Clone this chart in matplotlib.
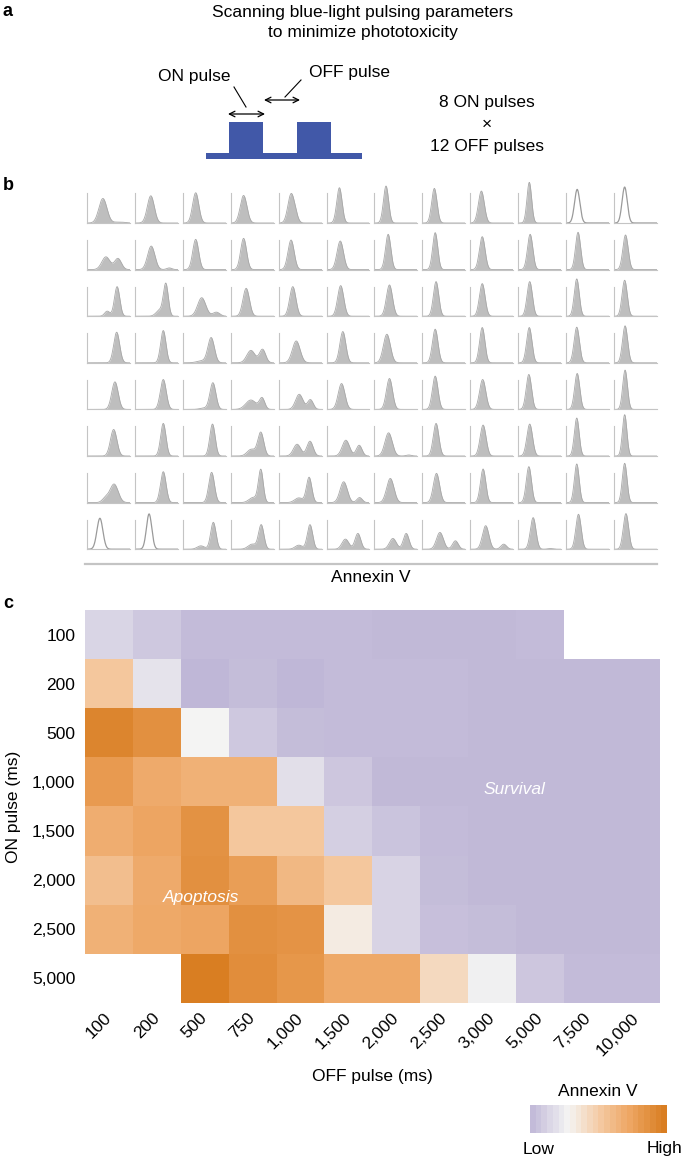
import numpy as np
import matplotlib.pyplot as plt
from matplotlib.colors import LinearSegmentedColormap
from matplotlib.patches import Rectangle

plt.rcParams['font.family'] = ['Liberation Sans', 'DejaVu Sans']

W, H = 685, 1158

# ---- panel c data ----
on_pulse = ['100', '200', '500', '1,000', '1,500', '2,000', '2,500', '5,000']
off_pulse = ['100', '200', '500', '750', '1,000', '1,500', '2,000', '2,500',
             '3,000', '5,000', '7,500', '10,000']
nan = np.nan
annexin = np.array([
    [0.16, 0.10, 0.04, 0.04, 0.04, 0.04, 0.03, 0.03, 0.03, 0.04, nan, nan],
    [0.55, 0.22, 0.02, 0.05, 0.02, 0.04, 0.04, 0.04, 0.03, 0.03, 0.03, 0.03],
    [0.95, 0.88, 0.30, 0.10, 0.05, 0.04, 0.04, 0.04, 0.03, 0.03, 0.03, 0.03],
    [0.82, 0.72, 0.68, 0.68, 0.20, 0.09, 0.03, 0.03, 0.03, 0.03, 0.03, 0.03],
    [0.70, 0.75, 0.87, 0.55, 0.55, 0.13, 0.08, 0.04, 0.03, 0.03, 0.03, 0.03],
    [0.60, 0.72, 0.88, 0.80, 0.64, 0.55, 0.15, 0.05, 0.03, 0.03, 0.03, 0.03],
    [0.68, 0.73, 0.75, 0.88, 0.86, 0.35, 0.15, 0.06, 0.05, 0.03, 0.03, 0.03],
    [nan, nan, 1.00, 0.90, 0.84, 0.73, 0.73, 0.45, 0.28, 0.09, 0.04, 0.04],
])

# ---- panel b data: peaks (position, height, width) per cell ----
peaks = [
    [[(0.37, 73, 0.094), (0.75, 3, 0.12)], [(0.37, 81, 0.081)], [(0.30, 90, 0.072)],
     [(0.30, 82, 0.078)], [(0.29, 85, 0.075), (0.40, 15, 0.06)], [(0.30, 105, 0.062)],
     [(0.27, 110, 0.06)], [(0.28, 103, 0.062)], [(0.26, 95, 0.069)],
     [(0.26, 121, 0.054)], [(0.26, 100, 0.062)], [(0.25, 107, 0.06)]],
    [[(0.44, 38, 0.095), (0.72, 33, 0.08)], [(0.38, 70, 0.085), (0.80, 5, 0.06)],
     [(0.30, 90, 0.069)], [(0.30, 93, 0.069)], [(0.29, 88, 0.072)], [(0.32, 85, 0.075)],
     [(0.32, 105, 0.062)], [(0.30, 110, 0.059)], [(0.28, 98, 0.066)],
     [(0.28, 105, 0.062)], [(0.28, 111, 0.059)], [(0.27, 103, 0.062)]],
    [[(0.70, 88, 0.062), (0.47, 15, 0.06)], [(0.72, 94, 0.056), (0.58, 18, 0.085)],
     [(0.44, 55, 0.095), (0.78, 12, 0.08)], [(0.36, 83, 0.075)], [(0.33, 88, 0.072)],
     [(0.33, 91, 0.071)], [(0.35, 93, 0.071)], [(0.32, 103, 0.062)],
     [(0.28, 97, 0.066)], [(0.27, 103, 0.062)], [(0.25, 111, 0.058)], [(0.25, 107, 0.06)]],
    [[(0.69, 91, 0.069)], [(0.66, 96, 0.062)], [(0.66, 74, 0.075), (0.45, 6, 0.12)],
     [(0.47, 37, 0.095), (0.74, 40, 0.072)], [(0.41, 65, 0.09)], [(0.38, 93, 0.069)],
     [(0.29, 85, 0.081)], [(0.30, 100, 0.065)], [(0.28, 105, 0.062)],
     [(0.26, 105, 0.062)], [(0.25, 106, 0.062)], [(0.26, 110, 0.06)]],
    [[(0.65, 82, 0.075)], [(0.66, 89, 0.069)], [(0.70, 79, 0.069), (0.5, 4, 0.1)],
     [(0.47, 28, 0.12), (0.73, 33, 0.062)], [(0.48, 45, 0.085), (0.74, 29, 0.066)],
     [(0.35, 77, 0.078)], [(0.35, 92, 0.071)], [(0.30, 99, 0.065)],
     [(0.29, 89, 0.072)], [(0.25, 104, 0.062)], [(0.26, 107, 0.06)], [(0.26, 117, 0.055)]],
    [[(0.62, 79, 0.075)], [(0.66, 97, 0.062)], [(0.69, 95, 0.062)],
     [(0.70, 70, 0.069), (0.48, 20, 0.095)], [(0.43, 35, 0.085), (0.73, 44, 0.072)],
     [(0.45, 47, 0.085), (0.76, 32, 0.066)], [(0.33, 69, 0.085), (0.80, 3, 0.06)],
     [(0.32, 97, 0.065)], [(0.30, 92, 0.069)], [(0.27, 95, 0.066)],
     [(0.25, 113, 0.056)], [(0.25, 123, 0.052)]],
    [[(0.63, 55, 0.095), (0.43, 13, 0.075)], [(0.66, 92, 0.065)], [(0.67, 90, 0.066)],
     [(0.70, 97, 0.056), (0.52, 15, 0.095)], [(0.71, 75, 0.062), (0.47, 14, 0.095)],
     [(0.40, 62, 0.085), (0.77, 15, 0.062)], [(0.37, 72, 0.085)], [(0.33, 87, 0.072)],
     [(0.30, 100, 0.062)], [(0.25, 107, 0.06)], [(0.25, 115, 0.056)], [(0.25, 117, 0.055)]],
    [[(0.30, 92, 0.069)], [(0.33, 105, 0.062)], [(0.71, 80, 0.062), (0.42, 10, 0.085)],
     [(0.71, 72, 0.062), (0.50, 15, 0.095)], [(0.73, 73, 0.062), (0.47, 12, 0.085)],
     [(0.44, 30, 0.08), (0.73, 47, 0.066)], [(0.43, 32, 0.08), (0.74, 47, 0.066)],
     [(0.41, 50, 0.08), (0.77, 25, 0.066)], [(0.36, 70, 0.075), (0.78, 15, 0.066)],
     [(0.35, 94, 0.065), (0.75, 2, 0.06)], [(0.29, 104, 0.062)], [(0.28, 106, 0.062)]],
]
open_cells = [(0, 10), (0, 11), (7, 0), (7, 1)]  # unstained controls


def px_axes(x0, y0, x1, y1):
    return fig.add_axes([x0 / W, 1 - y1 / H, (x1 - x0) / W, (y1 - y0) / H])


fig = plt.figure(figsize=(W / 100, H / 100), dpi=100)

# overlay axes in pixel coordinates for panel a and free text
ov = fig.add_axes([0, 0, 1, 1])
ov.set_xlim(0, W)
ov.set_ylim(H, 0)
ov.axis('off')

fs = 12.5
ov.text(3, 11, 'a', fontsize=13, fontweight='bold', va='center')
ov.text(3, 185, 'b', fontsize=13, fontweight='bold', va='center')
ov.text(3, 604, 'c', fontsize=13, fontweight='bold', va='center')

ov.text(363, 13, 'Scanning blue-light pulsing parameters', fontsize=fs, ha='center', va='center')
ov.text(363, 33, 'to minimize phototoxicity', fontsize=fs, ha='center', va='center')

blue = '#4158a8'
ov.add_patch(Rectangle((206, 153), 156, 6, color=blue, lw=0))
ov.add_patch(Rectangle((229, 122), 34, 33, color=blue, lw=0))
ov.add_patch(Rectangle((297, 122), 34, 33, color=blue, lw=0))
ov.annotate('', xy=(228, 114), xytext=(265, 114),
            arrowprops=dict(arrowstyle='<->', lw=0.9, color='black', shrinkA=0, shrinkB=0))
ov.annotate('', xy=(264, 100), xytext=(300, 100),
            arrowprops=dict(arrowstyle='<->', lw=0.9, color='black', shrinkA=0, shrinkB=0))
ov.plot([234, 246], [87, 107], color='black', lw=0.8)
ov.plot([301, 285], [80, 97], color='black', lw=0.8)
ov.text(194, 76, 'ON pulse', fontsize=fs, ha='center', va='center')
ov.text(350, 73, 'OFF pulse', fontsize=fs, ha='center', va='center')
ov.text(487, 103, '8 ON pulses', fontsize=fs, ha='center', va='center')
ov.text(487, 124, '×', fontsize=fs, ha='center', va='center')
ov.text(487, 146, '12 OFF pulses', fontsize=fs, ha='center', va='center')

# ---- panel b ----
xs = np.linspace(0, 1, 200)
for r in range(8):
    base = 223 + 46.6 * r
    for c in range(12):
        left = 87 + 47.9 * c
        ax = px_axes(left, base - 42, left + 43, base)
        y = np.zeros_like(xs)
        for mu, h, s in peaks[r][c]:
            y += h * np.exp(-0.5 * ((xs - mu) / s) ** 2)
        if (r, c) in open_cells:
            ax.plot(xs, y, color='#9a9a9a', lw=0.9)
        else:
            ax.fill_between(xs, 0, y, color='#bebebe', lw=0)
            ax.plot(xs, y, color='#a8a8a8', lw=0.6)
        ax.set_xlim(0, 1)
        ax.set_ylim(0, 125)
        ax.set_xticks([])
        ax.set_yticks([])
        ax.patch.set_alpha(0)
        for side in ['top', 'right']:
            ax.spines[side].set_visible(False)
        for side in ['left', 'bottom']:
            ax.spines[side].set_color('#c4c4c4')
            ax.spines[side].set_linewidth(0.8)
        ax.spines['left'].set_bounds(0, 88)

ov.plot([85, 657], [564, 564], color='#c4c4c4', lw=1.6)
ov.text(371, 578, 'Annexin V', fontsize=fs, ha='center', va='center')

# ---- panel c ----
cmap = LinearSegmentedColormap.from_list('annexin', [
    (0.0, '#bcb3d5'), (0.3, '#f5f5f4'), (0.55, '#f4c79d'),
    (0.75, '#eea663'), (1.0, '#d97e22')])

axh = px_axes(85, 610, 660, 1003)
axh.imshow(np.ma.masked_invalid(annexin), cmap=cmap, vmin=0, vmax=1,
           aspect='auto', interpolation='nearest')
axh.set_xticks(range(len(off_pulse)))
axh.set_xticklabels(off_pulse, rotation=45, ha='right', va='center',
                    rotation_mode='anchor', fontsize=fs)
axh.set_yticks(range(len(on_pulse)))
axh.set_yticklabels(on_pulse, fontsize=fs)
axh.tick_params(length=0, pad=7)
axh.tick_params(axis='x', pad=9)
for sp in axh.spines.values():
    sp.set_visible(False)
axh.set_xlabel('OFF pulse (ms)', fontsize=fs, labelpad=8)
axh.set_ylabel('ON pulse (ms)', fontsize=fs, labelpad=8)
axh.text(1.92, 5.35, 'Apoptosis', color='white', fontsize=fs, style='italic',
         ha='center', va='center')
axh.text(8.46, 3.16, 'Survival', color='white', fontsize=fs, style='italic',
         ha='center', va='center')

# colour bar as discrete bands
axc = px_axes(530, 1105, 667, 1133)
bands = np.linspace(0.04, 1, 24).reshape(1, -1)
axc.imshow(bands, cmap=cmap, vmin=0, vmax=1, aspect='auto', interpolation='nearest')
axc.axis('off')
ov.text(598, 1091, 'Annexin V', fontsize=fs, ha='center', va='center')
ov.text(539, 1149, 'Low', fontsize=fs, ha='center', va='center')
ov.text(665, 1149, 'High', fontsize=fs, ha='center', va='center')

fig.savefig('out.png', dpi=100)
